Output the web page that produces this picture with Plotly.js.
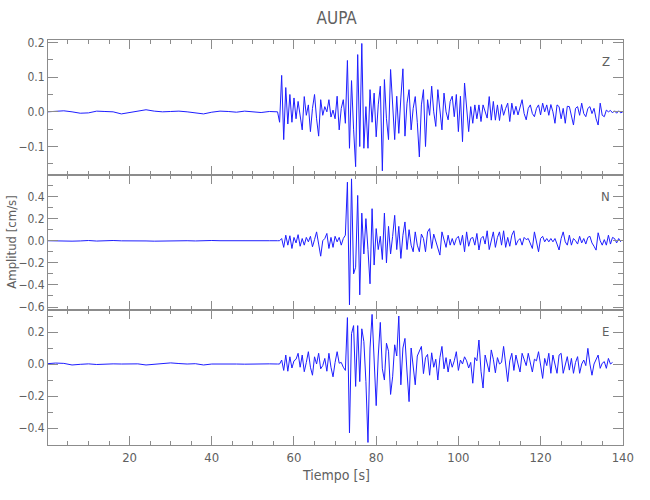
<!DOCTYPE html>
<html>
<head>
<meta charset="utf-8">
<script src="https://cdn.plot.ly/plotly-3.0.1.min.js"></script>
<style>html,body{margin:0;padding:0;background:#fff;}#chart{width:650px;height:500px;}</style>
</head>
<body>
<div id="chart"></div>
<script>
// ---- data ----
const stationName = "AUPA";
const componentNames = ["Z", "N", "E"];
const xTitle = "Tiempo [s]";
const yTitle = "Amplitud [cm/s]";

// pre-event samples: t = 0 .. 56 s, every 2 s
const preStart = 0, preStep = 2;
// event samples: t = 56 .. end, every 0.5 s
const evStart = 56, evStep = 0.5;

const zPre = [0, 0.001, 0.003, 0, -0.004, -0.003, 0.002, 0.001, 0, -0.006, -0.002, 0.002, 0.006, 0.002, 0,
  0.001, 0.002, 0, -0.002, -0.006, -0.001, 0.002, 0.001, -0.001, 0.002, 0, -0.002, 0.001, 0];
const nPre = [0, -0.003, 0, -0.004, -0.002, 0.002, -0.003, 0.001, 0.002, -0.001, 0, 0.003, -0.002, -0.004, -0.002,
  0.001, 0.003, 0, -0.002, 0.001, 0.002, 0, -0.001, 0.002, 0, 0.001, -0.001, 0, 0];
const ePre = [0.002, 0.006, 0.004, -0.006, -0.002, 0.001, -0.003, 0, 0.001, 0, 0.002, 0.001, -0.006, -0.002, 0.002,
  0.007, 0.003, 0, 0.002, -0.006, 0, 0.001, 0.002, 0, -0.001, 0.001, 0.002, 0.001, 0];

const zEvent = [
  0.000, -0.030, 0.105, -0.080, 0.070, -0.035, 0.050, -0.030, 0.040, -0.020,   // 56-60.5
  0.030, -0.010, -0.052, 0.044, -0.010, 0.020, -0.057, 0.010, 0.050, -0.020,   // 61-65.5
  -0.070, 0.035, -0.010, 0.015, 0.000, 0.035, -0.015, 0.005, -0.020, 0.045,    // 66-70.5
  -0.052, 0.010, 0.035, -0.033, 0.148, -0.105, 0.090, -0.050, -0.158, 0.165,   // 71-75.5
  -0.100, 0.197, -0.105, 0.015, -0.105, 0.064, -0.030, 0.054, -0.072, 0.020,   // 76-80.5
  0.074, -0.170, 0.093, -0.020, -0.080, 0.122, 0.010, -0.080, 0.045, -0.062,   // 81-85.5
  0.040, 0.124, -0.070, 0.025, 0.064, -0.052, 0.010, 0.044, -0.030, -0.130,    // 86-90.5
  0.020, 0.064, -0.100, 0.035, -0.010, 0.074, 0.000, -0.042, 0.064, 0.010,     // 91-95.5
  -0.052, 0.054, 0.000, -0.023, 0.030, 0.045, -0.014, 0.050, -0.057, 0.045,    // 96-100.5
  -0.086, 0.083, 0.000, -0.057, 0.015, -0.033, 0.020, -0.020, 0.020, -0.028,   // 101-105.5
  0.020, 0.000, -0.018, 0.044, -0.024, 0.030, -0.024, 0.020, -0.025, 0.021,    // 106-110.5
  -0.010, 0.010, 0.025, -0.028, 0.025, -0.008, 0.016, -0.009, 0.010, 0.035,    // 111-115.5
  -0.005, -0.023, 0.010, 0.020, -0.005, -0.014, 0.010, 0.020, -0.009, 0.025,   // 116-120.5
  0.000, 0.020, -0.010, 0.021, 0.000, -0.033, 0.020, 0.015, -0.020, 0.010,     // 121-125.5
  -0.033, 0.016, 0.015, -0.010, -0.038, 0.010, 0.015, -0.010, 0.025, -0.005,   // 126-130.5
  -0.014, 0.010, 0.015, -0.005, 0.010, -0.020, -0.038, 0.025, -0.010, -0.014,  // 131-135.5
  0.005, 0.000, 0.004, -0.003, 0.003, -0.004, 0.003, -0.003, 0.000            // 136-140
];

const nEvent = [
  0.000, 0.000, 0.020, -0.060, 0.050, -0.040, 0.045, -0.070, 0.030, -0.020,    // 56-60.5
  0.055, -0.050, 0.020, -0.040, 0.030, -0.010, 0.040, -0.055, 0.010, 0.080,    // 61-65.5
  -0.030, -0.140, 0.000, 0.020, 0.066, -0.070, 0.030, -0.060, 0.040, -0.010,   // 66-70.5
  0.030, -0.040, 0.020, 0.050, 0.530, -0.580, 0.560, -0.300, -0.240, 0.410,    // 71-75.5
  -0.490, 0.250, -0.120, 0.200, -0.080, -0.390, 0.290, -0.220, 0.110, -0.080,  // 76-80.5
  0.040, -0.170, 0.250, -0.200, 0.130, -0.120, 0.040, 0.230, -0.080, 0.130,    // 81-85.5
  -0.160, 0.050, 0.170, -0.080, 0.100, -0.040, -0.100, 0.080, -0.040, -0.100,  // 86-90.5
  0.060, 0.020, -0.100, 0.080, 0.110, -0.070, 0.060, 0.000, -0.050, -0.130,    // 91-95.5
  0.080, 0.000, -0.060, 0.050, -0.040, 0.020, -0.040, 0.020, 0.040, -0.040,    // 96-100.5
  0.050, -0.100, 0.080, -0.050, 0.020, 0.030, -0.040, 0.066, -0.084, 0.020,    // 101-105.5
  0.040, -0.030, 0.090, -0.080, 0.000, 0.080, -0.060, 0.030, 0.080, -0.040,    // 106-110.5
  0.090, -0.060, 0.030, -0.050, 0.050, 0.090, -0.040, 0.000, 0.020, -0.040,    // 111-115.5
  0.030, 0.010, 0.020, -0.020, -0.070, 0.080, -0.030, -0.100, 0.020, 0.040,    // 116-120.5
  -0.010, 0.020, -0.010, 0.020, -0.010, 0.020, -0.030, -0.084, 0.020, 0.080,   // 121-125.5
  -0.010, -0.040, 0.050, -0.040, 0.020, 0.000, -0.030, 0.040, -0.020, 0.020,   // 126-130.5
  -0.030, 0.030, 0.040, -0.020, -0.050, -0.085, 0.072, 0.000, -0.040, 0.010,   // 131-135.5
  -0.040, 0.050, -0.030, 0.030, 0.020, -0.020, 0.020, -0.010                   // 136-139.5
];

const eEvent = [
  0.000, 0.000, 0.025, -0.040, 0.056, -0.045, 0.045, -0.025, 0.020, 0.030,     // 56-60.5
  0.067, -0.020, 0.056, -0.048, 0.010, 0.077, -0.020, -0.070, 0.045, 0.000,    // 61-65.5
  0.067, -0.030, -0.010, 0.035, -0.045, 0.067, -0.020, -0.080, 0.010, 0.077,   // 66-70.5
  0.005, 0.010, -0.020, -0.040, 0.290, -0.430, 0.190, 0.240, -0.140, 0.240,    // 71-75.5
  -0.110, 0.220, 0.140, -0.110, -0.490, 0.100, 0.310, 0.000, -0.260, 0.050,    // 76-80.5
  0.260, -0.030, -0.100, 0.130, 0.080, -0.190, -0.080, 0.120, 0.050, 0.300,    // 81-85.5
  -0.130, 0.100, 0.160, -0.050, -0.235, 0.100, 0.000, -0.130, 0.050, 0.080,    // 86-90.5
  0.110, -0.060, 0.040, 0.060, -0.070, 0.070, -0.020, 0.030, -0.100, 0.040,    // 91-95.5
  0.110, -0.030, 0.040, -0.050, 0.030, -0.020, 0.020, 0.077, -0.040, 0.025,    // 96-100.5
  0.000, 0.045, 0.020, -0.025, 0.010, -0.120, 0.040, 0.020, 0.150, -0.045,     // 101-105.5
  -0.150, 0.056, 0.000, -0.050, 0.088, 0.030, -0.055, 0.040, 0.000, 0.010,     // 106-110.5
  0.110, 0.010, -0.110, 0.020, 0.067, -0.040, 0.056, 0.000, -0.050, 0.067,     // 111-115.5
  0.020, -0.010, 0.067, 0.000, -0.050, 0.030, 0.020, 0.077, 0.000, -0.090,     // 116-120.5
  0.035, -0.010, 0.067, -0.058, 0.056, 0.000, -0.058, 0.056, 0.067, -0.058,    // 121-125.5
  0.000, 0.046, -0.038, 0.035, -0.058, 0.010, 0.046, -0.058, 0.000, 0.025,     // 126-130.5
  -0.010, 0.098, 0.000, -0.070, 0.000, 0.025, 0.056, -0.027, 0.005, 0.015,     // 131-135.5
  -0.027, 0.035, 0.000, 0.010                                                  // 136-137.5
];

// axis settings per panel
const yRanges = { Z: [-0.182, 0.207], N: [-0.627, 0.595], E: [-0.506, 0.3375] };
const yMajor = { Z: 0.1, N: 0.2, E: 0.2 };
const yMinor = { Z: 0.05, N: 0.1, E: 0.1 };
const xRange = [0.15, 140.05];
const xMajor = 20, xMinor = 5;

// ---- styling ----
const lineColor = "rgb(30,30,255)";
const axisColor = "#8c8c8c";
const textColor = "#606060";
const fontFam = "'Liberation Sans Narrow', 'DejaVu Sans Condensed', 'Liberation Sans', sans-serif";

function series(pre, ev, axisIdx) {
  const ya = axisIdx === 1 ? "y" : "y" + axisIdx;
  const xa = axisIdx === 1 ? "x" : "x" + axisIdx;
  const common = { type: "scatter", mode: "lines", xaxis: xa, yaxis: ya,
    line: { color: lineColor, width: 1 }, hoverinfo: "skip", showlegend: false };
  return [
    Object.assign({ y: pre, x0: preStart, dx: preStep }, common),
    Object.assign({ y: ev, x0: evStart, dx: evStep }, common)
  ];
}

const data = [].concat(
  series(ePre, eEvent, 1),
  series(nPre, nEvent, 2),
  series(zPre, zEvent, 3)
);

function xAxis(anchor, labels) {
  return {
    anchor: anchor, domain: [0, 1], range: xRange,
    tickmode: "linear", tick0: 0, dtick: xMajor,
    ticks: "inside", ticklen: 9, tickwidth: 1, tickcolor: axisColor,
    minor: { tickmode: "linear", tick0: 0, dtick: xMinor, ticks: "inside", ticklen: 4, tickwidth: 1, tickcolor: axisColor, showgrid: false },
    showline: true, linecolor: axisColor, linewidth: 1, mirror: "ticks",
    showgrid: false, zeroline: false, showticklabels: labels,
    tickfont: { family: fontFam, size: 13, color: textColor }
  };
}
function yAxis(comp, domain, anchor) {
  return {
    anchor: anchor, domain: domain, range: yRanges[comp],
    tickmode: "linear", tick0: 0, dtick: yMajor[comp], tickformat: ".1f",
    ticks: "inside", ticklen: 10, tickwidth: 1, tickcolor: axisColor,
    minor: { tickmode: "linear", tick0: 0, dtick: yMinor[comp], ticks: "inside", ticklen: 5, tickwidth: 1, tickcolor: axisColor, showgrid: false },
    showline: true, linecolor: axisColor, linewidth: 1, mirror: "ticks",
    showgrid: false, zeroline: false,
    tickfont: { family: fontFam, size: 12, color: textColor }
  };
}

const panelTops = [1, 2 / 3, 1 / 3];
const annotations = componentNames.map((c, i) => ({
  text: c, xref: "paper", yref: "paper", x: 0.97, y: panelTops[i] - 0.052,
  xanchor: "center", yanchor: "middle", showarrow: false,
  font: { family: fontFam, size: 13, color: textColor }
}));
annotations.push({
  text: yTitle, xref: "paper", yref: "paper", x: -0.064, y: 0.5, textangle: -90,
  xanchor: "center", yanchor: "middle", showarrow: false,
  font: { family: fontFam, size: 13, color: textColor }
});
annotations.push({
  text: xTitle, xref: "paper", yref: "paper", x: 0.5, y: -0.075,
  xanchor: "center", yanchor: "middle", showarrow: false,
  font: { family: fontFam, size: 14, color: textColor }
});

const layout = {
  width: 650, height: 500,
  margin: { l: 48, r: 27, t: 40, b: 55, pad: 0 },
  paper_bgcolor: "#ffffff", plot_bgcolor: "#ffffff",
  showlegend: false,
  title: { text: stationName, x: 0.518, xanchor: "center", y: 0.964, yanchor: "middle", yref: "container",
    font: { family: fontFam, size: 17, color: textColor } },
  xaxis: xAxis("y", true),
  xaxis2: Object.assign(xAxis("y2", false), { matches: "x" }),
  xaxis3: Object.assign(xAxis("y3", false), { matches: "x" }),
  yaxis: yAxis("E", [0, 1 / 3], "x"),
  yaxis2: yAxis("N", [1 / 3, 2 / 3], "x2"),
  yaxis3: yAxis("Z", [2 / 3, 1], "x3"),
  annotations: annotations
};

Plotly.newPlot("chart", data, layout, { displayModeBar: false, staticPlot: true });
</script>
</body>
</html>
